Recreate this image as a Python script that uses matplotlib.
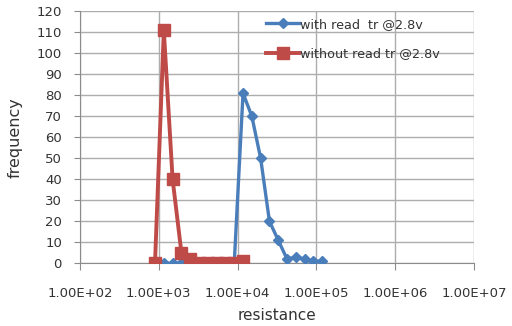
import matplotlib
matplotlib.use("Agg")
import matplotlib.pyplot as plt
from matplotlib.ticker import FixedLocator, FuncFormatter, NullLocator

# Resistance bins (shared geometric grid)
resistance = [895, 1158, 1497, 1937, 2505, 3240, 4191, 5419, 7009, 9065,
              11722, 15161, 19607, 25358, 32796, 42414, 54855, 70943, 91750, 118660]

# with read tr @2.8v
with_read = [0, 0, 0, 0, 0, 0, 0, 0, 0, 0,
             81, 70, 50, 20, 11, 2, 3, 2, 1, 1]
# without read tr @2.8v (first 11 bins)
without_read = [0, 111, 40, 5, 2, 0, 0, 0, 0, 0, 1]

x_ticks = [1e2, 1e3, 1e4, 1e5, 1e6, 1e7]
y_ticks = list(range(0, 121, 10))
labels = ["with read  tr @2.8v", "without read tr @2.8v"]

plt.rcParams['font.family'] = ['DejaVu Sans']

fig = plt.figure(figsize=(5.12, 3.26), dpi=100)
ax = fig.add_axes([80/512, 1 - 263.3/326, 394/512, 252/326])

blue = '#4A7EBB'
red = '#BE4B48'

ax.plot(resistance, with_read, color=blue, lw=2.4, marker='D', ms=5,
        label=labels[0], zorder=3)
ax.plot(resistance[:len(without_read)], without_read, color=red, lw=2.8,
        marker='s', ms=8, label=labels[1], zorder=4)

ax.set_xscale('log')
ax.set_xlim(1e2, 1e7)
ax.set_ylim(0, 120)
ax.xaxis.set_major_locator(FixedLocator(x_ticks))
ax.xaxis.set_minor_locator(NullLocator())
ax.xaxis.set_major_formatter(FuncFormatter(lambda v, p: f"{v:.2E}"))
ax.set_yticks(y_ticks)

ax.grid(True, color='#ADADAD', lw=1.0)
ax.set_axisbelow(True)
for s in ['top', 'right']:
    ax.spines[s].set_visible(False)
ax.spines['left'].set_color('#8C8C8C')
ax.spines['bottom'].set_color('#8C8C8C')

ax.tick_params(axis='x', length=5, color='#8C8C8C', pad=12, labelsize=9.5,
               labelcolor='#333333')
ax.tick_params(axis='y', length=4, color='#8C8C8C', pad=9, labelsize=9.5,
               labelcolor='#333333')

ax.set_xlabel('resistance', fontsize=11, color='#333333', labelpad=6)
ax.set_ylabel('frequency', fontsize=11.5, color='#333333', labelpad=10)

leg = ax.legend(loc='upper left', bbox_to_anchor=(0.472, 0.975),
                frameon=False, fontsize=9.2, handlelength=2.6,
                handletextpad=0.1, labelspacing=1.3, borderpad=0,
                borderaxespad=0, numpoints=1)
for t in leg.get_texts():
    t.set_color('#333333')

fig.savefig('out.png', dpi=100)
